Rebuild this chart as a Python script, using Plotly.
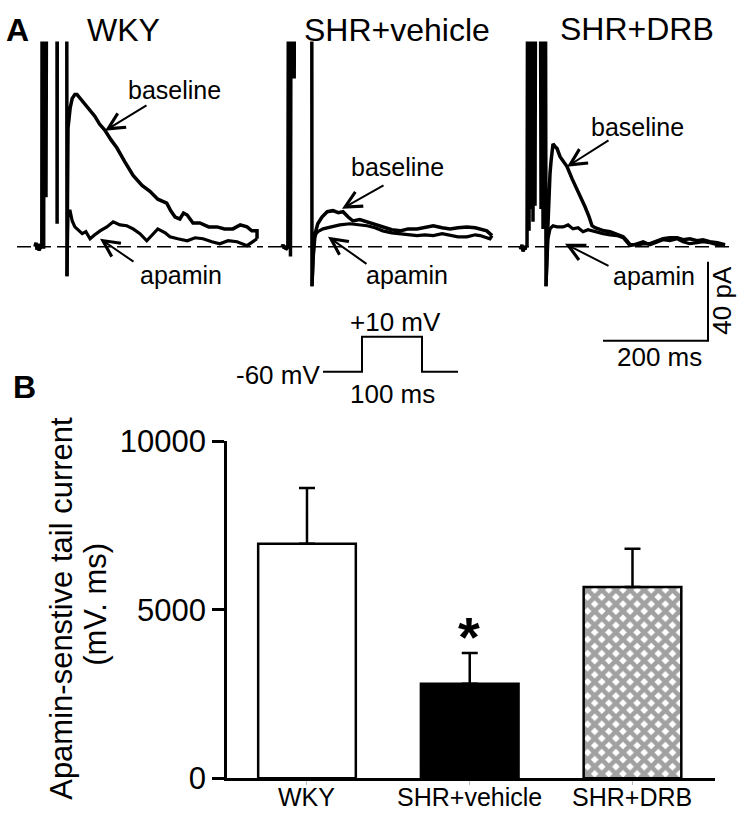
import plotly.graph_objects as go

W, H = 740, 820
# The captured page appears vertically rescaled (y_shown = 18.4 + 0.957 * y_page);
# layout positions below are given in target-picture pixels and converted.
def Yc(y):
    return (y - 18.4) / 0.957
def px(x):
    return x / W
def py(y):
    return 1 - Yc(y) / H

FONT = "Liberation Sans, Arial, Helvetica, sans-serif"
TOP = 130  # truncated (off-scale) step currents, pA

# ---------------- Panel A: current traces (time in ms from end of step, current in pA) ----------------
wky_base_t = [-61, -59, -57, -55, -53, -51, -50, -48, -47.4, -45, -44.4, -43.8, -41, -40, -39, -19, -18.8, -18.5,
              -0.4, 0, 1, 2, 6, 10, 15, 19, 25, 34, 44, 53, 62, 72, 84, 95, 110, 126, 143, 158, 173, 190, 198, 206,
              215, 222, 229, 240, 253, 270, 286, 300, 316, 330, 343, 352, 362, 362]
wky_base_i = [0, 2, -1.5, 1.5, -2, 0.5, -0.5, 0, TOP, TOP, -1, TOP, TOP, 25, TOP, TOP, 11.6, TOP,
              TOP, -15, 24, 60, 70, 75, 77, 77, 75, 72, 69, 66, 62, 59, 54, 50, 43, 36, 31, 28, 24, 22, 18, 15,
              14, 17, 16, 12, 12, 10, 10, 9, 9, 11, 10, 8, 8, 4]
wky_apa_t = [0, 1, 2, 6, 10, 15, 19, 29, 36, 44, 53, 63, 76, 88, 101, 114, 126, 139, 152, 162, 173, 187, 196,
             211, 229, 244, 259, 276, 291, 307, 324, 343, 352, 362]
wky_apa_i = [-15, 9, 18, 18, 13, 10, 9, 6.6, 7.6, 4, 6, 8, 10, 12.6, 11, 10.6, 9, 6.6, 3, 6, 9, 7, 5,
             4, 3, 4.5, 4, 2.5, 1.5, 3, 2.5, 0.5, 2, 4]

shr_base_t = [-57, -55, -53, -51, -50, -48, -46, -45, -44, -43, -42, -41, -40, -34, -33.9, -33.5, -0.4, 0, 2, 6,
              11, 19, 29, 40, 50, 59, 69, 78, 91, 105, 120, 135, 152, 168, 183, 200, 215, 231, 248, 263, 278,
              295, 311, 320, 333, 343]
shr_base_i = [0, 1, -1, 0.5, -1.5, -0.5, 0, TOP, TOP, 15.7, TOP, -5, TOP, TOP, 85, TOP, TOP, -20, -6, 6.6,
              11.6, 15, 17.7, 18.2, 17.2, 17.7, 15, 13, 13.7, 12.6, 11, 10, 8.6, 8, 9, 9, 9.6, 10.6, 9.6, 9, 9.6,
              10, 9.6, 9, 8, 5.6]
shr_apa_t = [0, 2, 4, 8, 11, 21, 30, 40, 53, 72, 88, 105, 120, 135, 152, 168, 183, 200, 215, 231, 248, 263,
             278, 295, 311, 320, 333, 339, 343]
shr_apa_i = [-20, -7, 4, 6.6, 7.6, 9, 9.6, 10, 11, 11.6, 11, 10.6, 9.6, 8, 7, 6.6, 6, 5.6, 6, 5.6, 6.6, 6,
             5, 5, 6, 5.6, 4.5, 4, 5.6]

drb_base_t = [-49.5, -47.6, -45.7, -43.8, -41.9, -40, -38.1, -36.2, -35.2, -33.3, -32.4, -31.4, -29.5, -28.6,
              -27.6, -25.7, -24.8, -23.8, -21.9, -21, -20, -10.5, -9.5, -8.6, -6.7, -5.7, -4.8, -1, 0, 1.9, 3.8,
              5.7, 7.6, 9.5, 11.4, 13.3, 17.1, 21, 26.7, 32.4, 40, 49.5, 59, 66.7, 74.3, 81.9, 87.6, 93.3, 99,
              110.5, 122, 135, 147, 154, 160, 173, 185, 198, 211, 223, 236, 250, 261, 274, 288, 299, 312, 326, 341]
drb_base_i = [0, -1, 1, -2.5, -0.5, -1.5, 0.5, 0, TOP, TOP, 8, TOP, TOP, 19, TOP, TOP, 12.6, TOP, TOP, 20.7,
              TOP, TOP, 19, TOP, TOP, 9, TOP, TOP, -20, -1, 16.7, 24.3, 37, 43, 51, 52, 50.6, 49.6, 45.5, 43,
              40.5, 34.4, 29.3, 24.3, 20.2, 15.2, 10.6, 9.6, 9, 8, 7.6, 6, 5, 3, 1, 1, 1.5, 1.5, 3, 4, 4.5, 4.5,
              3.5, 4, 3, 3.5, 2.5, 2, 1]
drb_apa_t = [0, 1.9, 3.8, 7.6, 13.3, 21, 32.4, 42, 51.4, 61, 70.5, 80, 89.5, 99, 108.6, 122, 135, 147, 160,
             173, 185, 198, 211, 223, 236, 250, 261, 274, 288, 299, 312, 326, 341]
drb_apa_i = [-20, -6, 4, 9, 10.6, 10, 10, 11, 9, 9.6, 7.6, 8.6, 8, 7, 6.6, 6, 5.6, 4.5, 0.5,
             1.5, 2.5, 1, 2.5, 3.5, 3, 4, 2.5, 1.5, 2, 2.5, 2, 1, 0.5]

# scale bars
scale_ms = 200
scale_pA = 40
# voltage protocol
stim_t = [-65, 0, 0, 100, 100, 160]
stim_v = [-60, -60, 10, 10, -60, -60]

# ---------------- Panel B: bar chart ----------------
groups = ["WKY", "SHR+vehicle", "SHR+DRB"]
means = [6960, 2800, 5680]
sems = [1660, 920, 1130]
y_ticks = [0, 5000, 10000]

fig = go.Figure()

A_Y_RANGE = [-51.6, 103.7]
A_Y_DOM = [py(350), py(43)]
panels = [
    ("x", "y", [17, 263], [-95.2, 373.4], wky_base_t, wky_base_i, wky_apa_t, wky_apa_i),
    ("x2", "y2", [268, 515], [-83.8, 386.7], shr_base_t, shr_base_i, shr_apa_t, shr_apa_i),
    ("x3", "y3", [515, 733], [-59.1, 356.2], drb_base_t, drb_base_i, drb_apa_t, drb_apa_i),
]
for i, (xa, ya, dom, rng, bt, bi, at, ai) in enumerate(panels):
    fig.add_trace(go.Scatter(x=rng, y=[0, 0], mode="lines", xaxis=xa, yaxis=ya,
                             line=dict(color="black", width=1.5, dash="14px,6px"), hoverinfo="skip"))
    fig.add_trace(go.Scatter(x=at, y=ai, mode="lines", xaxis=xa, yaxis=ya,
                             line=dict(color="black", width=3.2), name="apamin"))
    fig.add_trace(go.Scatter(x=bt, y=bi, mode="lines", xaxis=xa, yaxis=ya,
                             line=dict(color="black", width=3.5), name="baseline"))
    axn = "" if i == 0 else str(i + 1)
    fig.layout["xaxis" + axn] = dict(domain=[px(dom[0]), px(dom[1])], range=rng, visible=False,
                                     anchor=ya, fixedrange=True)
    fig.layout["yaxis" + axn] = dict(domain=A_Y_DOM, range=A_Y_RANGE, visible=False,
                                     anchor=xa, fixedrange=True)

sb_t0 = 108.6
sb_i0 = -47.6
fig.add_trace(go.Scatter(x=[sb_t0, sb_t0 + scale_ms, sb_t0 + scale_ms],
                         y=[sb_i0, sb_i0, sb_i0 + scale_pA], mode="lines", xaxis="x3", yaxis="y3",
                         line=dict(color="black", width=2), hoverinfo="skip"))

fig.add_trace(go.Scatter(x=stim_t, y=stim_v, mode="lines", xaxis="x4", yaxis="y4",
                         line=dict(color="black", width=2), hoverinfo="skip"))
fig.layout["xaxis4"] = dict(domain=[px(320), px(460)], range=[-70, 163.3], visible=False, anchor="y4")
fig.layout["yaxis4"] = dict(domain=[py(380), py(330)], range=[-74, 26], visible=False, anchor="x4")

fig.add_trace(go.Bar(
    x=groups, y=means, xaxis="x5", yaxis="y5", width=0.6,
    marker=dict(color=["white", "black", "white"],
                line=dict(color="black", width=2.5),
                pattern=dict(shape=["", "", "x"], fgcolor="black", size=10, solidity=0.7)),
    error_y=dict(type="data", array=sems, arrayminus=[0, 0, 0], symmetric=False,
                 color="black", thickness=2.5, width=8),
))
fig.layout["xaxis5"] = dict(domain=[px(227), px(715)], range=[-0.4915, 2.507], type="category",
                            anchor="y5", showline=True, linecolor="black", linewidth=2.5,
                            ticks="outside", ticklen=4, tickwidth=1, tickcolor="#bbbbbb",
                            showticklabels=False, showgrid=False, zeroline=False)
fig.layout["yaxis5"] = dict(domain=[py(779.3), py(442.7)], range=[0, 10000], anchor="x5",
                            tickvals=y_ticks, ticktext=[str(v) for v in y_ticks],
                            ticks="outside", ticklen=12, tickwidth=2.5,
                            tickcolor="black", showline=True, linecolor="black", linewidth=2.5,
                            tickfont=dict(family=FONT, size=31, color="black"), showgrid=False,
                            zeroline=False)

ann = []
def text(x, y, s, size, bold=False, angle=0, xanchor="center"):
    ann.append(dict(x=px(x), y=py(y), xref="paper", yref="paper",
                    text=("<b>%s</b>" % s) if bold else s,
                    showarrow=False, xanchor=xanchor, yanchor="middle", textangle=angle,
                    font=dict(family=FONT, size=size, color="black")))

def arrow(tip, tail):
    ann.append(dict(x=px(tip[0]), y=py(tip[1]), xref="paper", yref="paper", text="", showarrow=True,
                    ax=tail[0] - tip[0], ay=Yc(tail[1]) - Yc(tip[1]), axref="pixel", ayref="pixel",
                    arrowhead=5, arrowsize=1.6, arrowwidth=2, arrowcolor="black"))

text(17, 31, "A", 32, bold=True)
text(85, 31, "WKY", 32, xanchor="left")
text(397, 31, "SHR+vehicle", 32)
text(637, 30, "SHR+DRB", 32)
text(174, 91, "baseline", 25)
text(398, 168, "baseline", 25)
text(637, 128, "baseline", 25)
text(181, 276, "apamin", 25)
text(407, 276, "apamin", 25)
text(654, 277, "apamin", 25)
arrow((105, 132), (148, 107))
arrow((100, 240), (135, 263))
arrow((342, 210), (385, 187))
arrow((328, 238), (368, 265))
arrow((567, 168), (610, 142))
arrow((565, 245), (610, 267))
text(722, 302, "40 pA", 26, angle=-90)
text(659, 358, "200 ms", 26)
text(322, 376, "-60 mV", 26, xanchor="right")
text(395, 323, "+10 mV", 26)
text(392, 395, "100 ms", 26)
text(24, 388, "B", 32, bold=True)
text(62, 610, "Apamin-senstive tail current", 31, angle=-90)
text(96, 606, "(mV. ms)", 31, angle=-90)
text(469, 638, "*", 56, bold=True)
# category labels on the bar chart's x scale
for g in groups:
    ann.append(dict(x=g, y=py(798), xref="x5", yref="paper", text=g, showarrow=False,
                    xanchor="center", yanchor="middle",
                    font=dict(family=FONT, size=25, color="black")))

fig.update_layout(width=W, height=H, margin=dict(l=0, r=0, t=0, b=0, pad=0), paper_bgcolor="white",
                  plot_bgcolor="rgba(0,0,0,0)", showlegend=False, annotations=ann,
                  font=dict(family=FONT, color="black"))
fig.write_html(
    "out.html",
    config={"responsive": False, "displayModeBar": False},
    post_script="document.body.style.margin='0';document.body.style.padding='0';",
)
